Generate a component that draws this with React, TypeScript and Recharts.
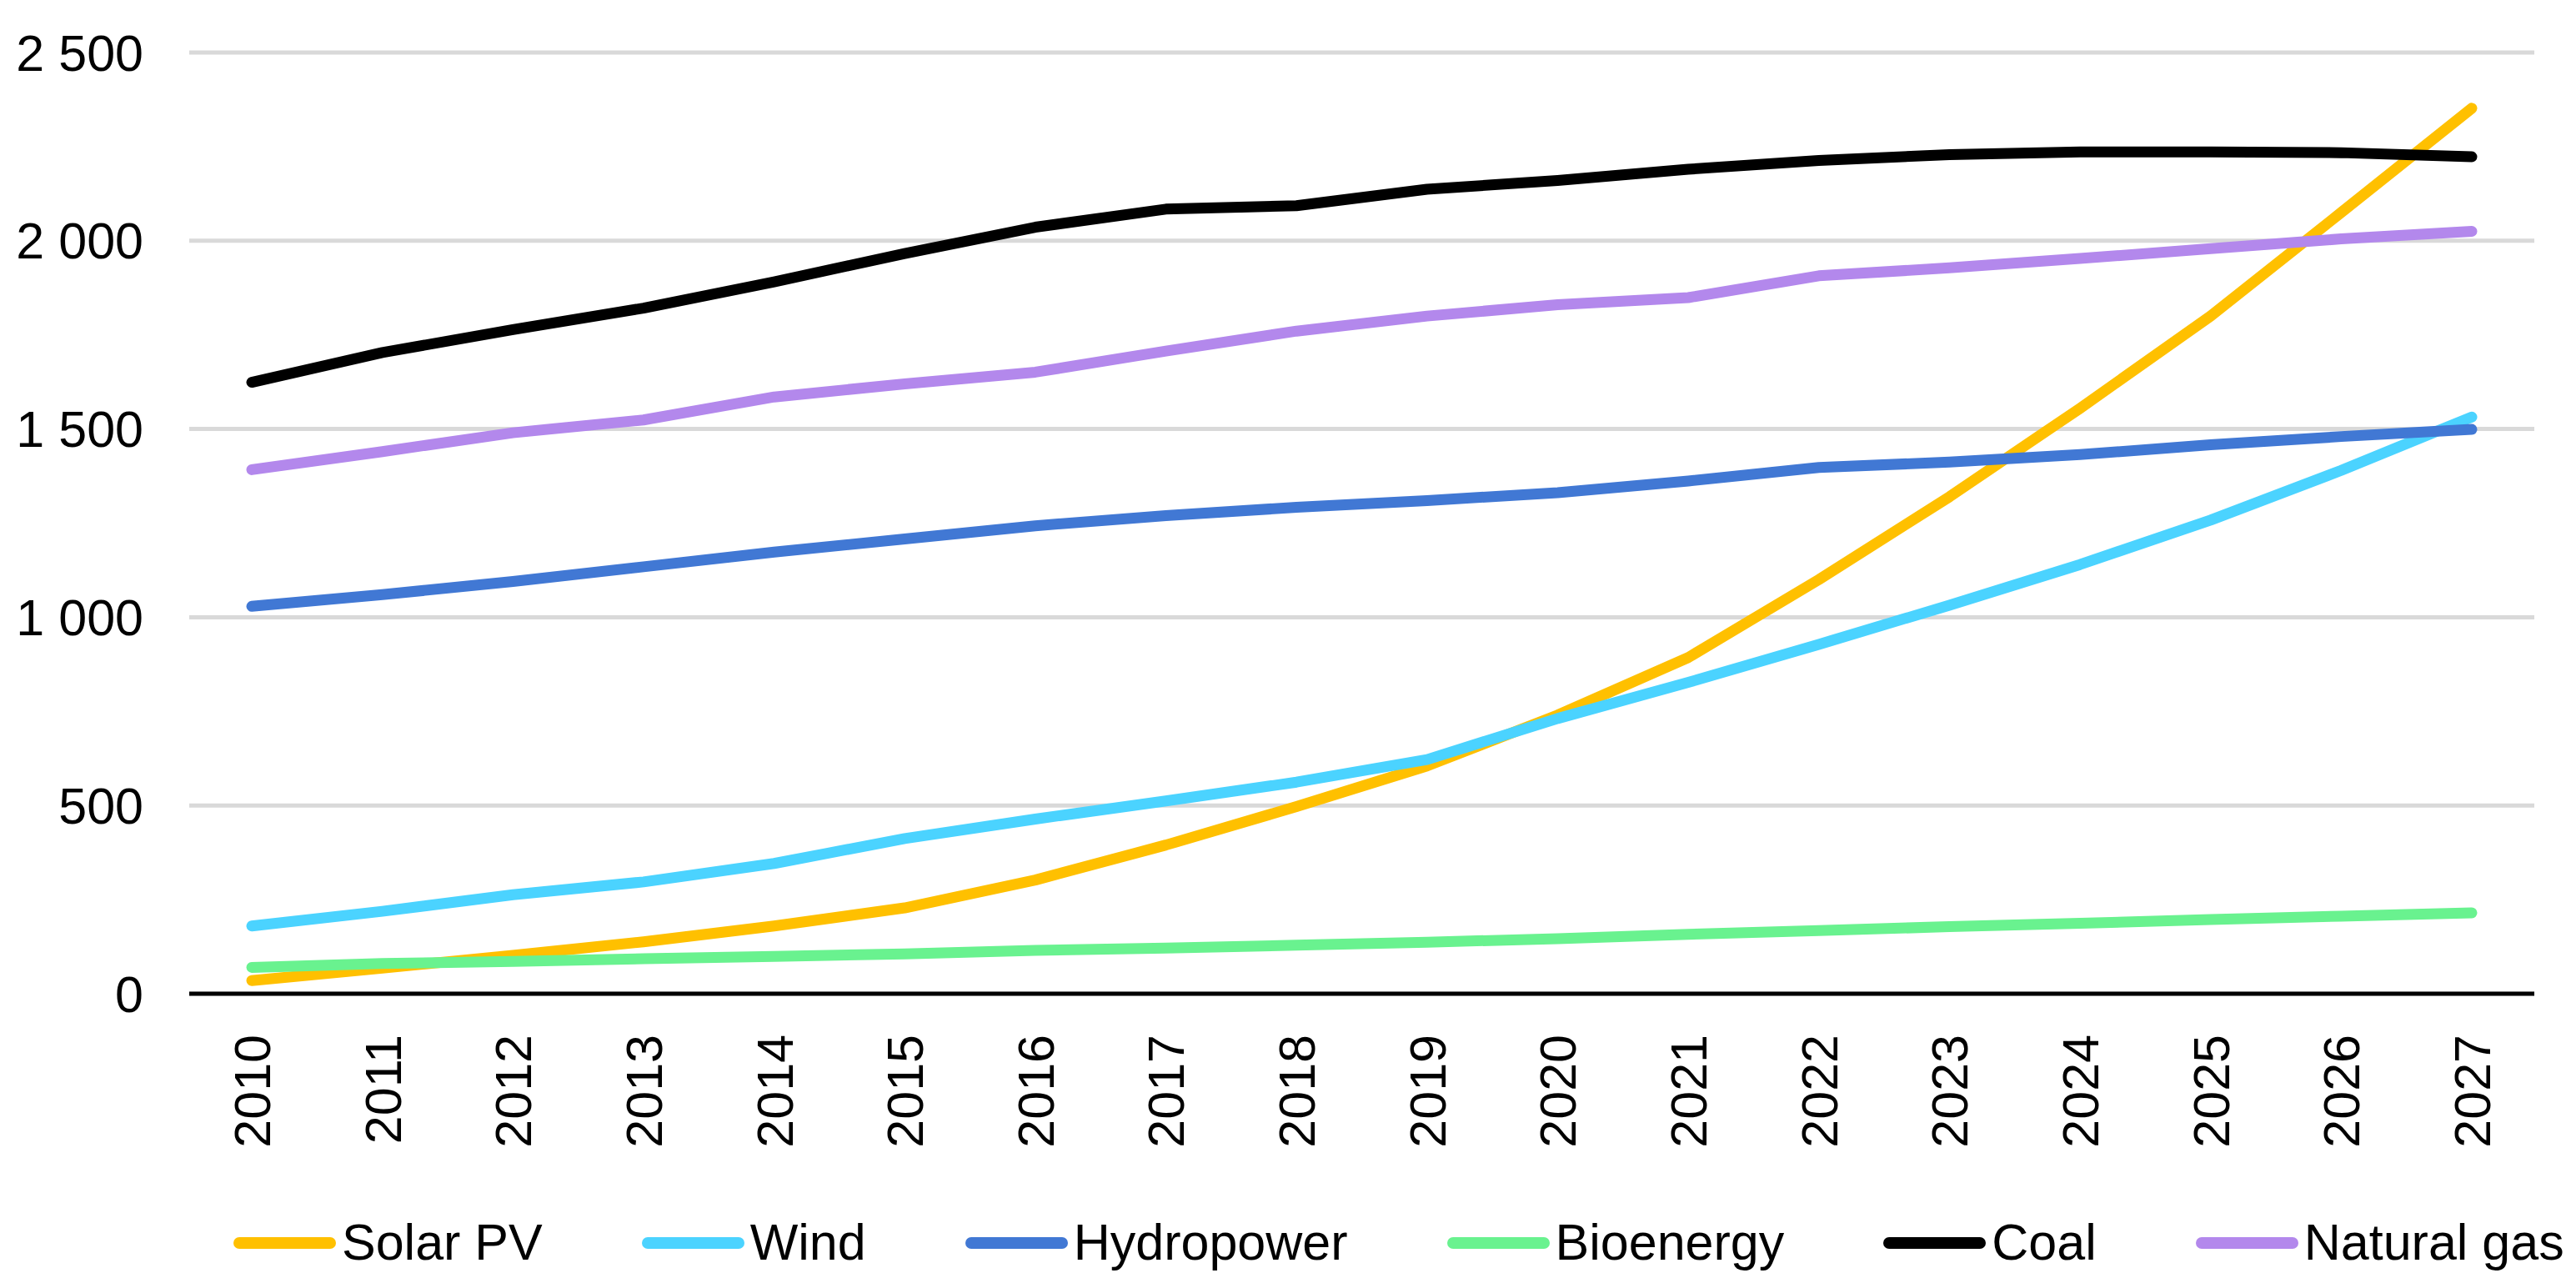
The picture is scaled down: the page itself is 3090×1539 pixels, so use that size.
import { LineChart, Line, XAxis, YAxis, CartesianGrid } from "recharts";

const years = [
  "2010", "2011", "2012", "2013", "2014", "2015", "2016", "2017", "2018",
  "2019", "2020", "2021", "2022", "2023", "2024", "2025", "2026", "2027",
];

const solarPV = [35, 68, 102, 138, 180, 228, 302, 395, 497, 605, 740, 893, 1100, 1320, 1555, 1800, 2075, 2352];
const wind = [180, 219, 263, 297, 346, 412, 464, 512, 562, 622, 731, 827, 928, 1032, 1140, 1258, 1390, 1532];
const hydropower = [1029, 1060, 1095, 1134, 1173, 1208, 1243, 1270, 1292, 1310, 1331, 1362, 1398, 1412, 1432, 1458, 1480, 1499];
const bioenergy = [70, 80, 86, 93, 99, 106, 115, 121, 129, 137, 146, 158, 168, 178, 187, 197, 206, 215];
const coal = [1624, 1703, 1764, 1821, 1891, 1966, 2036, 2084, 2093, 2137, 2160, 2190, 2213, 2229, 2236, 2236, 2234, 2223];
const naturalGas = [1392, 1440, 1490, 1524, 1585, 1620, 1651, 1707, 1760, 1800, 1830, 1849, 1907, 1928, 1953, 1979, 2005, 2025];

const yTicks = [0, 500, 1000, 1500, 2000, 2500];

const series = [
  { name: "Solar PV", values: solarPV, color: "#FFC000" },
  { name: "Wind", values: wind, color: "#4BD3FF" },
  { name: "Hydropower", values: hydropower, color: "#4178D4" },
  { name: "Bioenergy", values: bioenergy, color: "#69F28F" },
  { name: "Coal", values: coal, color: "#000000" },
  { name: "Natural gas", values: naturalGas, color: "#B388EC" },
];

const data = years.map((year, i) => {
  const row: Record<string, string | number> = { year };
  series.forEach((s) => {
    row[s.name] = s.values[i];
  });
  return row;
});

const FONT = '"Liberation Sans", Arial, sans-serif';

function formatThousands(v: number) {
  return String(v).replace(/\B(?=(\d{3})+(?!\d))/g, " ");
}

function YearTick({ x, y, payload }: any) {
  return (
    <text
      x={x}
      y={y}
      dy="0.36em"
      transform={`rotate(-90 ${x} ${y})`}
      textAnchor="end"
      fontSize={61}
      fontFamily={FONT}
      fill="#000"
    >
      {payload.value}
    </text>
  );
}

function LegendRow() {
  return (
    <div
      style={{
        position: "absolute",
        left: 280,
        top: 1460,
        height: 61,
        display: "flex",
        alignItems: "center",
        fontFamily: FONT,
        fontSize: 61,
        lineHeight: 1,
        whiteSpace: "nowrap",
        color: "#000",
      }}
    >
      {series.map((s) => (
        <div
          key={s.name}
          style={{ display: "flex", alignItems: "center", marginRight: 119 }}
        >
          <span
            style={{
              display: "inline-block",
              width: 123,
              height: 14,
              borderRadius: 7,
              background: s.color,
              marginRight: 7,
            }}
          />
          <span>{s.name}</span>
        </div>
      ))}
    </div>
  );
}

export default function App() {
  return (
    <div
      style={{
        position: "absolute",
        left: 0,
        top: 0,
        width: 3090,
        height: 1539,
        background: "#fff",
        overflow: "hidden",
      }}
    >
      <LineChart
        width={3090}
        height={1539}
        data={data}
        margin={{ top: 63, right: 50, bottom: 147, left: 0 }}
      >
        <CartesianGrid vertical={false} stroke="#d9d9d9" strokeWidth={5} />
        <XAxis
          dataKey="year"
          interval={0}
          height={200}
          padding={{ left: 75, right: 75 }}
          axisLine={{ stroke: "#000", strokeWidth: 5 }}
          tickLine={false}
          tickSize={0}
          tickMargin={49}
          tick={<YearTick />}
        />
        <YAxis
          width={227}
          domain={[0, 2500]}
          ticks={yTicks}
          axisLine={false}
          tickLine={false}
          tickSize={0}
          tickMargin={55}
          tickFormatter={formatThousands}
          tick={{ fontSize: 61, fontFamily: FONT, fill: "#000" }}
        />
        {series.map((s) => (
          <Line
            key={s.name}
            type="linear"
            dataKey={s.name}
            stroke={s.color}
            strokeWidth={13}
            strokeLinecap="round"
            strokeLinejoin="round"
            dot={false}
            activeDot={false}
            isAnimationActive={false}
          />
        ))}
      </LineChart>
      <LegendRow />
    </div>
  );
}
